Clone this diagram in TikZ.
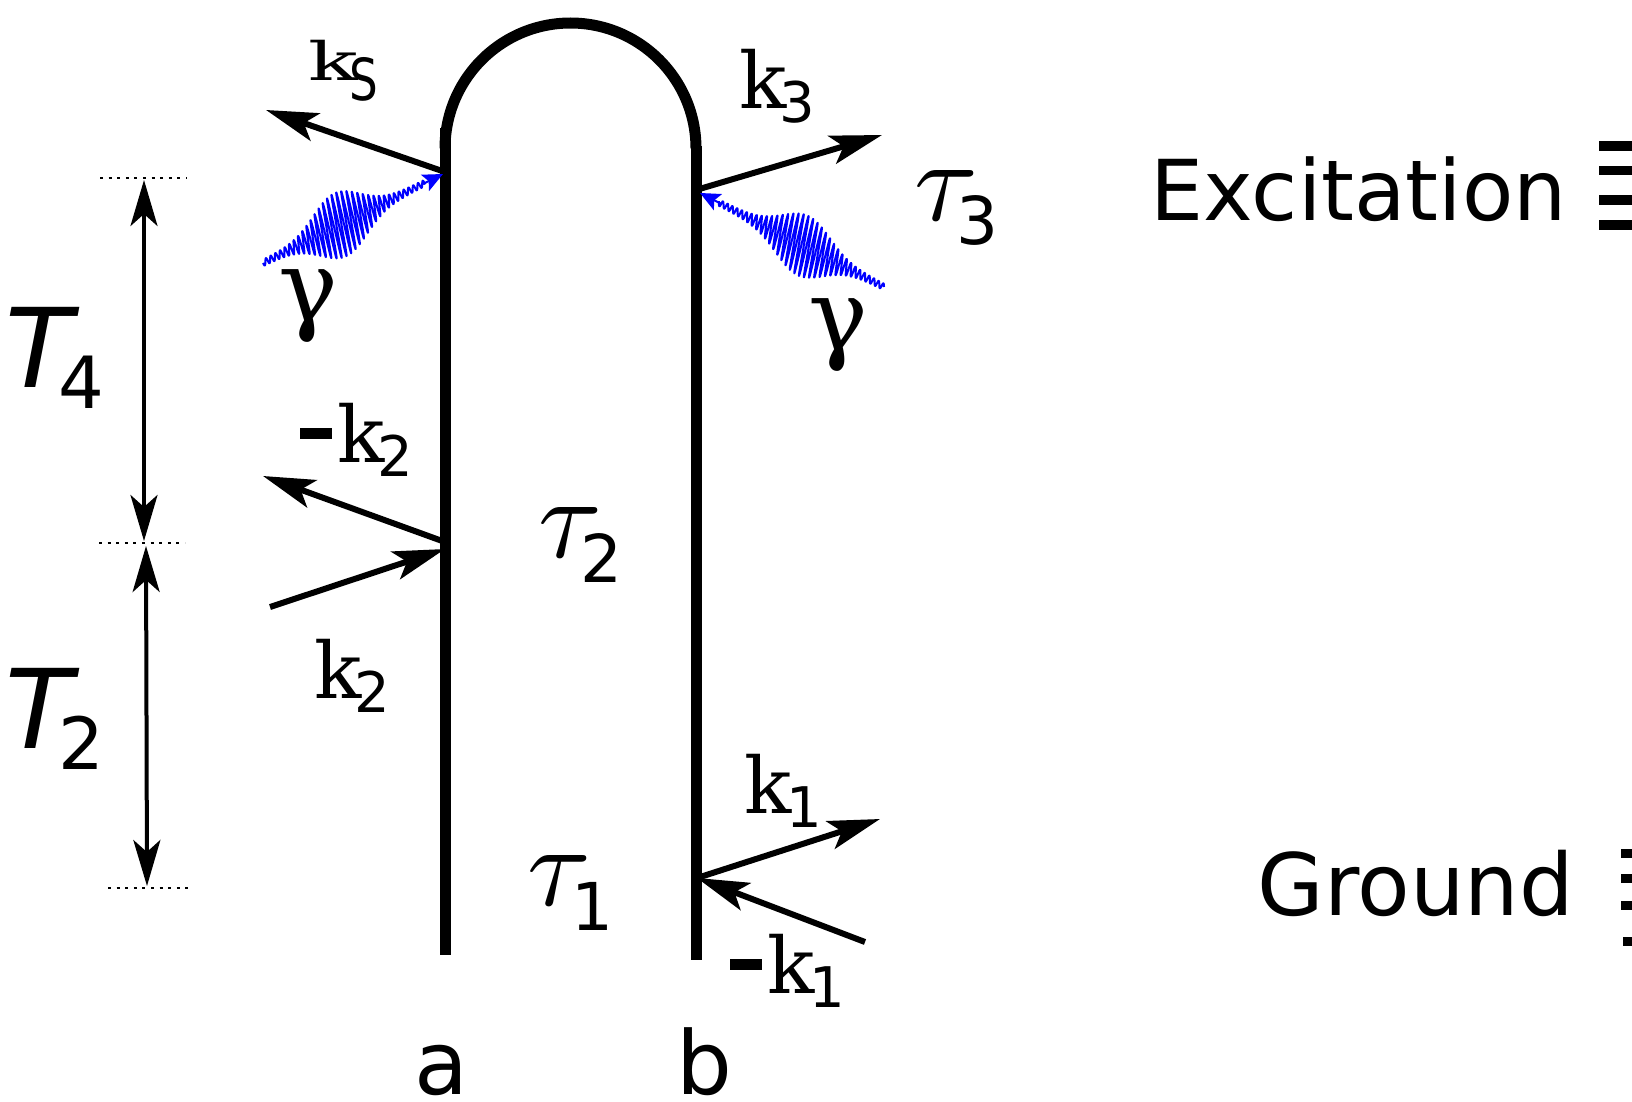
\documentclass[tikz,border=0pt]{standalone}
\usepackage{graphicx}
\usepackage{fontspec}
\setmainfont{DejaVu Sans}
\newfontfamily\kfont{DejaVu Serif}
\usetikzlibrary{arrows.meta}

\tikzset{
  wall/.style={line width=5.5pt, line cap=butt},
  karrow/.style={line width=3pt, -{Stealth[length=26pt,width=14.5pt,inset=6pt]}},
  tarrow/.style={line width=2pt, {Stealth[length=23pt,width=13.5pt,inset=6pt]}-{Stealth[length=23pt,width=13.5pt,inset=6pt]}},
  dotline/.style={line width=1pt, dash pattern=on 1.5pt off 2.8pt},
  lbl/.style={inner sep=0pt, anchor=base west},
  photon/.style={blue, line width=1pt, line join=round},
  photontip/.style={blue, line width=1pt, -{Stealth[length=10pt,width=9pt,inset=2pt]}},
}

% wave packet: start x,y ; end x,y ; stroke dir nx,ny ; peak amplitude ; peak position
\newcommand{\wpacket}[8]{%
  \pgfmathsetmacro{\wdx}{#3-#1}%
  \pgfmathsetmacro{\wdy}{#4-#2}%
  \pgfmathsetmacro{\wlen}{veclen(\wdx,\wdy)}%
  \pgfmathsetmacro{\wcyc}{\wlen/5.3}%
  \draw[photon] plot[domain=0:0.9, samples=900, variable=\s]
    ({#1+\s*\wdx+(3+#7*exp(-((\s-#8)/0.18)^2))*sin(360*\wcyc*\s)*#5},
     {#2+\s*\wdy+(3+#7*exp(-((\s-#8)/0.18)^2))*sin(360*\wcyc*\s)*#6});
  \draw[photontip] ({#1+0.88*\wdx},{#2+0.88*\wdy}) -- (#3,#4);
}

\newcommand{\kl}[2]{\makebox[0pt][l]{\kfont\fontsize{39}{39}\selectfont k}\hspace{#2}\raisebox{-7pt}{\fontsize{28}{28}\selectfont #1}}
\newcommand{\taul}[2]{\makebox[0pt][l]{\scalebox{5.8}{$\tau$}}\hspace{#2}\raisebox{-12.5pt}{\fontsize{33}{33}\selectfont #1}}
\newcommand{\Tl}[1]{\makebox[0pt][l]{\fontsize{55}{55}\selectfont\itshape T}\hspace{26.5pt}\raisebox{-10.5pt}{\fontsize{36}{36}\selectfont #1}}
\newcommand{\minusbar}{\rule[11.5pt]{16pt}{5.5pt}\hspace{2.5pt}}

\begin{document}
\begin{tikzpicture}[x=0.5pt,y=-0.5pt]
\useasboundingbox (0,0) rectangle (1632,1102);

% double-sided diagram walls
\coordinate (aTop) at (445,128);
\coordinate (aBot) at (445,955);
\coordinate (bTop) at (696,146);
\coordinate (bBot) at (696,960);
\draw[wall] (aTop) -- (aBot);
\draw[wall] (bTop) -- (bBot);
\draw[wall] (445,148.5) arc[start angle=180,end angle=360,radius=125.5];

% interaction points
\coordinate (PL1) at (445,172);
\coordinate (PR1) at (696,190);
\coordinate (PL2a) at (445,542);
\coordinate (PL2b) at (445,549);
\coordinate (PR2) at (697,878);

% free ends
\coordinate (ksTip) at (266,110);
\coordinate (k3Tip) at (882,135);
\coordinate (mk2Tip) at (263,476);
\coordinate (k2Start) at (270,607);
\coordinate (k1Tip) at (880,819);
\coordinate (mk1Start) at (865,942);

\draw[karrow] (PL1) -- (ksTip);
\draw[karrow] (PR1) -- (k3Tip);
\draw[karrow] (PL2a) -- (mk2Tip);
\draw[karrow] (k2Start) -- (PL2b);
\draw[karrow] (PR2) -- (k1Tip);
\draw[karrow] (mk1Start) -- (PR2);

% photon wave packets
\wpacket{263}{263}{443}{174}{0.2}{0.98}{29}{0.43}
\wpacket{884}{287}{700}{193}{0.2}{-0.98}{27}{0.44}

% time markers
\coordinate (d1a) at (100,178); \coordinate (d1b) at (187,178);
\coordinate (d2a) at (99,543);  \coordinate (d2b) at (185,543);
\coordinate (d3a) at (108,888); \coordinate (d3b) at (193,888);
\draw[dotline] (d1a) -- (d1b);
\draw[dotline] (d2a) -- (d2b);
\draw[dotline] (d3a) -- (d3b);
\coordinate (T4top) at (144,180); \coordinate (T4bot) at (144,541);
\coordinate (T2top) at (146,546); \coordinate (T2bot) at (147,886);
\draw[tarrow] (T4top) -- (T4bot);
\draw[tarrow] (T2top) -- (T2bot);

% labels
\node[lbl] (ks) at (308,81) {\makebox[0pt][l]{\scalebox{1.05}[0.68]{\kfont\fontsize{39}{39}\selectfont k}}\hspace{20.5pt}\raisebox{-10pt}{\scalebox{0.78}[1]{\fontsize{29}{29}\selectfont S}}};
\node[lbl] (k3) at (739,109) {\kl{3}{19.8pt}};
\node[lbl] (mk2) at (300,462) {\minusbar\kl{2}{19.8pt}};
\node[lbl] (k2) at (314,698) {\kl{2}{19.8pt}};
\node[lbl] (k1) at (744,813) {\kl{1}{21pt}};
\node[lbl] (mk1) at (730,993) {\minusbar\kl{1}{21pt}};

\node[inner sep=0pt, anchor=base] (gL) at (308,321) {\kfont\fontsize{50}{50}\selectfont γ};
\node[inner sep=0pt, anchor=base] (gR) at (838,350) {\kfont\fontsize{50}{50}\selectfont γ};

\node[lbl] (tau3) at (914.5,220) {\taul{3}{21pt}};
\node[lbl] (tau2) at (538.5,557) {\taul{2}{21pt}};
\node[lbl] (tau1) at (527.5,905) {\taul{1}{22pt}};

\node[lbl] (T4) at (5,387) {\Tl{4}};
\node[lbl] (T2) at (5,748) {\Tl{2}};

\node[inner sep=0pt, anchor=base] (la) at (441,1094) {\fontsize{44}{44}\selectfont a};
\node[inner sep=0pt, anchor=base] (lb) at (704.5,1094) {\fontsize{44}{44}\selectfont b};

\node[lbl] (exc) at (1150,220) {\fontsize{42}{42}\selectfont Excitation};
\node[lbl] (gnd) at (1257,915) {\fontsize{43}{43}\selectfont Ground};

% cropped level marks at the right edge
\fill (1599,141) rectangle (1632,151);
\fill (1599,166) rectangle (1632,175);
\fill (1599,195) rectangle (1632,205);
\fill (1599,220) rectangle (1632,230);
\fill (1621,849) rectangle (1632,858);
\fill (1621,874) rectangle (1632,883);
\fill (1621,901) rectangle (1632,910);
\fill (1623,937) rectangle (1632,946);
\end{tikzpicture}
\end{document}
